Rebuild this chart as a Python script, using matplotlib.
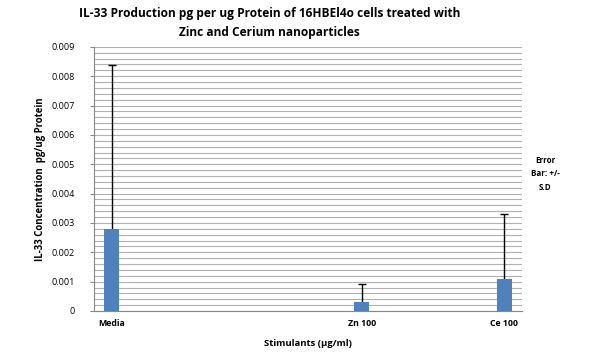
import numpy as np
import matplotlib.pyplot as plt

plt.rcParams['font.family'] = ['Open Sans', 'DejaVu Sans']

# 12 category slots on the axis, only three of them hold data
slots = 12
positions = [0, 7, 11]
labels = ['Media', 'Zn 100', 'Ce 100']
means = [0.00279, 0.00030, 0.00109]
sds = [0.00560, 0.00061, 0.00221]

fig = plt.figure(figsize=(5.92, 3.55), dpi=100)
ax = fig.add_axes([0.159, 0.124, 0.723, 0.744])

# bars sit over the error lines so only the upper half shows
ax.errorbar(positions, means, yerr=sds, fmt='none',
            ecolor='black', elinewidth=1, capsize=3, capthick=1, zorder=3)
ax.bar(positions, means, width=0.42, color='#4f81bd', zorder=4)

ax.set_xlim(-0.5, slots - 0.5)
ax.set_ylim(0, 0.009)
ax.set_yticks(np.arange(0, 0.0091, 0.001))
ax.set_yticklabels(['0'] + ['%.3f' % v for v in np.arange(0.001, 0.0091, 0.001)])
ax.set_yticks(np.arange(0, 0.009, 0.0002), minor=True)
ax.yaxis.grid(True, which='both', color='#b0b0b0', linewidth=0.8, zorder=0)
ax.tick_params(axis='y', which='major', labelsize=6.5, length=3, color='#888888', pad=11)
ax.tick_params(axis='y', which='minor', length=0)
ax.set_xticks(positions)
ax.set_xticklabels(labels, fontsize=6.3, fontweight='bold')
ax.tick_params(axis='x', length=0, pad=6)

for s in ['top', 'right']:
    ax.spines[s].set_visible(False)
ax.spines['left'].set_color('#888888')
ax.spines['bottom'].set_color('#888888')

fig.text(0.455, 0.935, 'IL-33 Production pg per ug Protein of 16HBEl4o cells treated with\nZinc and Cerium nanoparticles',
         fontsize=8.6, fontweight='bold', ha='center', va='center', linespacing=1.6)
ax.set_xlabel('Stimulants (\u00b5g/ml)', fontsize=6.8, fontweight='bold', labelpad=8)
ax.set_ylabel('IL-33 Concentration  pg/ug Protein', fontsize=6.9, fontweight='bold', labelpad=4)

fig.text(0.921, 0.51, 'Error\nBar: +/-\nS.D', fontsize=5.8, fontweight='bold',
         ha='center', va='center', linespacing=1.6)

fig.savefig('out.png', dpi=100)
